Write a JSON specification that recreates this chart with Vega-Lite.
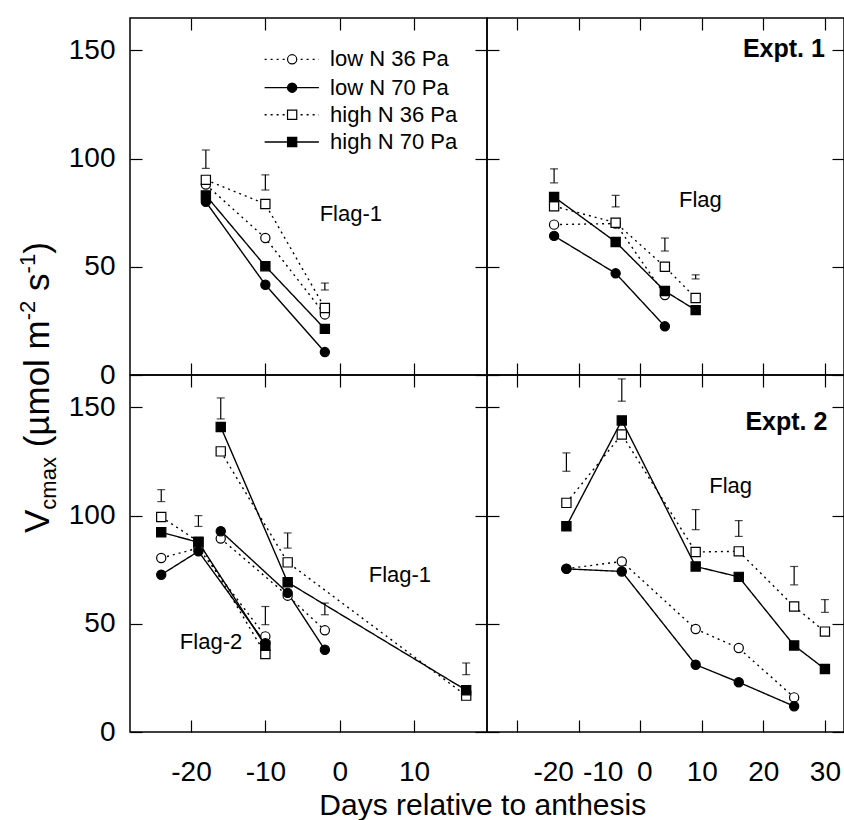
{
  "$schema": "https://vega.github.io/schema/vega-lite/v6.json",
  "background": "white",
  "padding": {"left": 16, "top": 16, "right": 2, "bottom": 2},
  "config": {
    "font": "Liberation Sans",
    "view": {"stroke": "black", "strokeWidth": 1.5},
    "concat": {"spacing": 0},
    "axis": {"domain": false, "grid": false, "ticks": true, "tickColor": "black", "tickWidth": 1.2, "tickSize": 12, "offset": -12, "labelFont": "Liberation Sans", "labelFontSize": 28, "labelColor": "black", "labelFlush": false, "labelOverlap": false, "labelBound": false, "labelExpr": "'' + datum.value", "title": null},
    "text": {"font": "Liberation Sans", "color": "black"}
  },
  "title": {"text": "Days relative to anthesis", "orient": "bottom", "anchor": "middle", "fontSize": 30, "fontWeight": "normal", "font": "Liberation Sans", "color": "black", "offset": 4, "dx": 52},
  "datasets": {
    "ptsTL": [
      {"N": "low", "Pa": "36", "d": -18, "v": 88}, {"N": "low", "Pa": "36", "d": -10, "v": 63.3}, {"N": "low", "Pa": "36", "d": -2, "v": 28},
      {"N": "low", "Pa": "70", "d": -18, "v": 80}, {"N": "low", "Pa": "70", "d": -10, "v": 41.7}, {"N": "low", "Pa": "70", "d": -2, "v": 10.6},
      {"N": "high", "Pa": "36", "d": -18, "v": 90.2}, {"N": "high", "Pa": "36", "d": -10, "v": 79}, {"N": "high", "Pa": "36", "d": -2, "v": 31},
      {"N": "high", "Pa": "70", "d": -18, "v": 83}, {"N": "high", "Pa": "70", "d": -10, "v": 50.3}, {"N": "high", "Pa": "70", "d": -2, "v": 21.3}
    ],
    "errTL": [{"d": -18, "lo": 95.5, "hi": 104}, {"d": -10, "lo": 85.5, "hi": 92.5}, {"d": -2, "lo": 39.3, "hi": 42.5}],
    "ptsTR": [
      {"N": "low", "Pa": "36", "d": -14, "v": 69.5}, {"N": "low", "Pa": "36", "d": -4, "v": 70}, {"N": "low", "Pa": "36", "d": 4, "v": 37},
      {"N": "low", "Pa": "70", "d": -14, "v": 64.3}, {"N": "low", "Pa": "70", "d": -4, "v": 47}, {"N": "low", "Pa": "70", "d": 4, "v": 22.5},
      {"N": "high", "Pa": "36", "d": -14, "v": 78}, {"N": "high", "Pa": "36", "d": -4, "v": 70.4}, {"N": "high", "Pa": "36", "d": 4, "v": 50}, {"N": "high", "Pa": "36", "d": 9, "v": 35.6},
      {"N": "high", "Pa": "70", "d": -14, "v": 82.3}, {"N": "high", "Pa": "70", "d": -4, "v": 61.5}, {"N": "high", "Pa": "70", "d": 4, "v": 38.8}, {"N": "high", "Pa": "70", "d": 9, "v": 30}
    ],
    "errTR": [{"d": -14, "lo": 88.8, "hi": 95.3}, {"d": -4, "lo": 77.7, "hi": 83}, {"d": 4, "lo": 57.3, "hi": 63.3}, {"d": 9, "lo": 44.4, "hi": 46.3}],
    "ptsBL": [
      {"c": "F2", "N": "low", "Pa": "36", "d": -24, "v": 80.4}, {"c": "F2", "N": "low", "Pa": "36", "d": -19, "v": 85}, {"c": "F2", "N": "low", "Pa": "36", "d": -10, "v": 44.2},
      {"c": "F2", "N": "low", "Pa": "70", "d": -24, "v": 72.7}, {"c": "F2", "N": "low", "Pa": "70", "d": -19, "v": 83.5}, {"c": "F2", "N": "low", "Pa": "70", "d": -10, "v": 41},
      {"c": "F2", "N": "high", "Pa": "36", "d": -24, "v": 99.4}, {"c": "F2", "N": "high", "Pa": "36", "d": -19, "v": 88}, {"c": "F2", "N": "high", "Pa": "36", "d": -10, "v": 36},
      {"c": "F2", "N": "high", "Pa": "70", "d": -24, "v": 92.3}, {"c": "F2", "N": "high", "Pa": "70", "d": -19, "v": 87.7}, {"c": "F2", "N": "high", "Pa": "70", "d": -10, "v": 39.9},
      {"c": "F1", "N": "low", "Pa": "36", "d": -16, "v": 89.4}, {"c": "F1", "N": "low", "Pa": "36", "d": -7, "v": 63}, {"c": "F1", "N": "low", "Pa": "36", "d": -2, "v": 47},
      {"c": "F1", "N": "low", "Pa": "70", "d": -16, "v": 92.8}, {"c": "F1", "N": "low", "Pa": "70", "d": -7, "v": 64.3}, {"c": "F1", "N": "low", "Pa": "70", "d": -2, "v": 38},
      {"c": "F1", "N": "high", "Pa": "36", "d": -16, "v": 129.7}, {"c": "F1", "N": "high", "Pa": "36", "d": -7, "v": 78.4}, {"c": "F1", "N": "high", "Pa": "36", "d": 17, "v": 16.8},
      {"c": "F1", "N": "high", "Pa": "70", "d": -16, "v": 141}, {"c": "F1", "N": "high", "Pa": "70", "d": -7, "v": 69.2}, {"c": "F1", "N": "high", "Pa": "70", "d": 17, "v": 19.3}
    ],
    "errBL": [{"d": -24, "lo": 106.5, "hi": 112}, {"d": -19, "lo": 95, "hi": 100}, {"d": -10, "lo": 49.6, "hi": 58}, {"d": -16, "lo": 144.7, "hi": 154.4}, {"d": -7, "lo": 85, "hi": 92}, {"d": -2, "lo": 54.2, "hi": 59.6}, {"d": 17, "lo": 26.5, "hi": 31.9}],
    "ptsBR": [
      {"N": "low", "Pa": "36", "d": -12, "v": 75.5}, {"N": "low", "Pa": "36", "d": -3, "v": 78.8}, {"N": "low", "Pa": "36", "d": 9, "v": 47.6}, {"N": "low", "Pa": "36", "d": 16, "v": 38.8}, {"N": "low", "Pa": "36", "d": 25, "v": 16},
      {"N": "low", "Pa": "70", "d": -12, "v": 75.4}, {"N": "low", "Pa": "70", "d": -3, "v": 74.2}, {"N": "low", "Pa": "70", "d": 9, "v": 31.1}, {"N": "low", "Pa": "70", "d": 16, "v": 23}, {"N": "low", "Pa": "70", "d": 25, "v": 11.9},
      {"N": "high", "Pa": "36", "d": -12, "v": 105.9}, {"N": "high", "Pa": "36", "d": -3, "v": 137.5}, {"N": "high", "Pa": "36", "d": 9, "v": 83.2}, {"N": "high", "Pa": "36", "d": 16, "v": 83.5}, {"N": "high", "Pa": "36", "d": 25, "v": 58}, {"N": "high", "Pa": "36", "d": 30, "v": 46.4},
      {"N": "high", "Pa": "70", "d": -12, "v": 95.1}, {"N": "high", "Pa": "70", "d": -3, "v": 144}, {"N": "high", "Pa": "70", "d": 9, "v": 76.5}, {"N": "high", "Pa": "70", "d": 16, "v": 71.7}, {"N": "high", "Pa": "70", "d": 25, "v": 40}, {"N": "high", "Pa": "70", "d": 30, "v": 29.1}
    ],
    "errBR": [{"d": -12, "lo": 120.5, "hi": 129}, {"d": -3, "lo": 152.9, "hi": 163.2}, {"d": 9, "lo": 93.5, "hi": 102.8}, {"d": 16, "lo": 90.4, "hi": 97.7}, {"d": 25, "lo": 68, "hi": 76.5}, {"d": 30, "lo": 55.3, "hi": 61.2}],
    "curveLab": [
      {"p": "TL", "t": "Flag-1", "d": -2.7, "v": 74.4},
      {"p": "TR", "t": "Flag", "d": 6.3, "v": 81},
      {"p": "BL", "t": "Flag-1", "d": 3.9, "v": 72.4},
      {"p": "BL", "t": "Flag-2", "d": -21.5, "v": 41.4},
      {"p": "BR", "t": "Flag", "d": 11.2, "v": 113.5}
    ],
    "exptLab": [
      {"p": "TR", "t": "Expt. 1", "d": 30, "v": 150.5},
      {"p": "BR", "t": "Expt. 2", "d": 30.4, "v": 143.3}
    ],
    "leg": [
      {"N": "low", "Pa": "36", "t": "low N 36 Pa", "v": 145.9},
      {"N": "low", "Pa": "70", "t": "low N 70 Pa", "v": 132.8},
      {"N": "high", "Pa": "36", "t": "high N 36 Pa", "v": 120.3},
      {"N": "high", "Pa": "70", "t": "high N 70 Pa", "v": 107.7}
    ]
  },
  "columns": 2,
  "bounds": "flush",
  "spacing": 0,
  "concat": [
        {
          "width": 357, "height": 357,
          "resolve": {"axis": {"x": "independent", "y": "independent"}},
          "layer": [
            {"data": {"name": "ptsTL"}, "mark": {"type": "line", "color": "black", "strokeWidth": 1.4},
             "encoding": {
               "x": {"field": "d", "type": "quantitative", "scale": {"domain": [-28.2, 19.8], "nice": false, "zero": false}, "axis": {"orient": "bottom", "values": [-20, -10, 0, 10], "labels": false}},
               "y": {"field": "v", "type": "quantitative", "scale": {"domain": [0, 165], "nice": false, "zero": false}, "axis": {"orient": "left", "values": [0, 50, 100, 150], "labels": true, "labelPadding": 15}},
               "detail": {"field": "N"},
               "strokeDash": {"field": "Pa", "type": "nominal", "scale": {"domain": ["36", "70"], "range": [[2, 4], [1, 0]]}, "legend": null}
             }},
            {"data": {"name": "ptsTL"}, "mark": {"type": "point", "filled": true, "stroke": "black", "strokeWidth": 1.2, "size": 85, "opacity": 1},
             "encoding": {
               "x": {"field": "d", "type": "quantitative", "axis": {"orient": "top", "values": [-20, -10, 0, 10], "labels": false}},
               "y": {"field": "v", "type": "quantitative", "axis": {"orient": "right", "values": [0, 50, 100, 150], "labels": false}},
               "shape": {"field": "N", "type": "nominal", "scale": {"domain": ["low", "high"], "range": ["circle", "square"]}, "legend": null},
               "fill": {"field": "Pa", "type": "nominal", "scale": {"domain": ["36", "70"], "range": ["white", "black"]}, "legend": null}
             }},
            {"data": {"name": "errTL"}, "mark": {"type": "rule", "color": "black", "strokeWidth": 1.2},
             "encoding": {"x": {"field": "d", "type": "quantitative", "axis": null}, "y": {"field": "lo", "type": "quantitative", "axis": null}, "y2": {"field": "hi"}}},
            {"data": {"name": "errTL"}, "mark": {"type": "tick", "orient": "horizontal", "color": "black", "size": 8, "thickness": 1.2},
             "encoding": {"x": {"field": "d", "type": "quantitative", "axis": null}, "y": {"field": "lo", "type": "quantitative", "axis": null}}},
            {"data": {"name": "errTL"}, "mark": {"type": "tick", "orient": "horizontal", "color": "black", "size": 8, "thickness": 1.2},
             "encoding": {"x": {"field": "d", "type": "quantitative", "axis": null}, "y": {"field": "hi", "type": "quantitative", "axis": null}}},
            {"data": {"name": "curveLab"}, "transform": [{"filter": "datum.p === 'TL'"}], "mark": {"type": "text", "align": "left", "baseline": "middle", "fontSize": 22},
             "encoding": {"x": {"field": "d", "type": "quantitative", "axis": null}, "y": {"field": "v", "type": "quantitative", "axis": null}, "text": {"field": "t"}}},
            {"data": {"name": "leg"}, "mark": {"type": "rule", "color": "black", "strokeWidth": 1.4},
             "encoding": {"x": {"datum": -10.1, "type": "quantitative", "axis": null}, "x2": {"datum": -2.8}, "y": {"field": "v", "type": "quantitative", "axis": null},
               "strokeDash": {"field": "Pa", "type": "nominal", "legend": null}}},
            {"data": {"name": "leg"}, "mark": {"type": "point", "filled": true, "stroke": "black", "strokeWidth": 1.2, "size": 85, "opacity": 1},
             "encoding": {"x": {"datum": -6.4, "type": "quantitative", "axis": null}, "y": {"field": "v", "type": "quantitative", "axis": null},
               "shape": {"field": "N", "type": "nominal", "legend": null}, "fill": {"field": "Pa", "type": "nominal", "legend": null}}},
            {"data": {"name": "leg"}, "mark": {"type": "text", "align": "left", "baseline": "middle", "fontSize": 22},
             "encoding": {"x": {"datum": -1.3, "type": "quantitative", "axis": null}, "y": {"field": "v", "type": "quantitative", "axis": null}, "text": {"field": "t"}}}
          ]
        },
        {
          "width": 357, "height": 357,
          "resolve": {"axis": {"x": "independent", "y": "independent"}},
          "layer": [
            {"data": {"name": "ptsTR"}, "mark": {"type": "line", "color": "black", "strokeWidth": 1.4},
             "encoding": {
               "x": {"field": "d", "type": "quantitative", "scale": {"domain": [-24.9, 33.1], "nice": false, "zero": false}, "axis": {"orient": "bottom", "values": [-20, -10, 0, 10, 20, 30], "labels": false}},
               "y": {"field": "v", "type": "quantitative", "scale": {"domain": [0, 165], "nice": false, "zero": false}, "axis": {"orient": "left", "values": [0, 50, 100, 150], "labels": false}},
               "detail": {"field": "N"},
               "strokeDash": {"field": "Pa", "type": "nominal", "scale": {"domain": ["36", "70"], "range": [[2, 4], [1, 0]]}, "legend": null}
             }},
            {"data": {"name": "ptsTR"}, "mark": {"type": "point", "filled": true, "stroke": "black", "strokeWidth": 1.2, "size": 85, "opacity": 1},
             "encoding": {
               "x": {"field": "d", "type": "quantitative", "axis": {"orient": "top", "values": [-20, -10, 0, 10, 20, 30], "labels": false}},
               "y": {"field": "v", "type": "quantitative", "axis": {"orient": "right", "values": [0, 50, 100, 150], "labels": false}},
               "shape": {"field": "N", "type": "nominal", "scale": {"domain": ["low", "high"], "range": ["circle", "square"]}, "legend": null},
               "fill": {"field": "Pa", "type": "nominal", "scale": {"domain": ["36", "70"], "range": ["white", "black"]}, "legend": null}
             }},
            {"data": {"name": "errTR"}, "mark": {"type": "rule", "color": "black", "strokeWidth": 1.2},
             "encoding": {"x": {"field": "d", "type": "quantitative", "axis": null}, "y": {"field": "lo", "type": "quantitative", "axis": null}, "y2": {"field": "hi"}}},
            {"data": {"name": "errTR"}, "mark": {"type": "tick", "orient": "horizontal", "color": "black", "size": 8, "thickness": 1.2},
             "encoding": {"x": {"field": "d", "type": "quantitative", "axis": null}, "y": {"field": "lo", "type": "quantitative", "axis": null}}},
            {"data": {"name": "errTR"}, "mark": {"type": "tick", "orient": "horizontal", "color": "black", "size": 8, "thickness": 1.2},
             "encoding": {"x": {"field": "d", "type": "quantitative", "axis": null}, "y": {"field": "hi", "type": "quantitative", "axis": null}}},
            {"data": {"name": "curveLab"}, "transform": [{"filter": "datum.p === 'TR'"}], "mark": {"type": "text", "align": "left", "baseline": "middle", "fontSize": 22},
             "encoding": {"x": {"field": "d", "type": "quantitative", "axis": null}, "y": {"field": "v", "type": "quantitative", "axis": null}, "text": {"field": "t"}}},
            {"data": {"name": "exptLab"}, "transform": [{"filter": "datum.p === 'TR'"}], "mark": {"type": "text", "align": "right", "baseline": "middle", "fontSize": 25, "fontWeight": "bold"},
             "encoding": {"x": {"field": "d", "type": "quantitative", "axis": null}, "y": {"field": "v", "type": "quantitative", "axis": null}, "text": {"field": "t"}}}
          ]
        },
        {
          "width": 357, "height": 357,
          "resolve": {"axis": {"x": "independent", "y": "independent"}},
          "layer": [
            {"data": {"name": "ptsBL"}, "mark": {"type": "line", "color": "black", "strokeWidth": 1.4},
             "encoding": {
               "x": {"field": "d", "type": "quantitative", "scale": {"domain": [-28.2, 19.8], "nice": false, "zero": false}, "axis": {"orient": "bottom", "values": [-20, -10, 0, 10], "labels": true, "labelPadding": 26}},
               "y": {"field": "v", "type": "quantitative", "scale": {"domain": [0, 165], "nice": false, "zero": false}, "axis": {"orient": "left", "values": [0, 50, 100, 150], "labels": true, "labelPadding": 15}},
               "detail": [{"field": "N"}, {"field": "c"}],
               "strokeDash": {"field": "Pa", "type": "nominal", "scale": {"domain": ["36", "70"], "range": [[2, 4], [1, 0]]}, "legend": null}
             }},
            {"data": {"name": "ptsBL"}, "mark": {"type": "point", "filled": true, "stroke": "black", "strokeWidth": 1.2, "size": 85, "opacity": 1},
             "encoding": {
               "x": {"field": "d", "type": "quantitative", "axis": {"orient": "top", "values": [-20, -10, 0, 10], "labels": false}},
               "y": {"field": "v", "type": "quantitative", "axis": {"orient": "right", "values": [0, 50, 100, 150], "labels": false}},
               "shape": {"field": "N", "type": "nominal", "scale": {"domain": ["low", "high"], "range": ["circle", "square"]}, "legend": null},
               "fill": {"field": "Pa", "type": "nominal", "scale": {"domain": ["36", "70"], "range": ["white", "black"]}, "legend": null}
             }},
            {"data": {"name": "errBL"}, "mark": {"type": "rule", "color": "black", "strokeWidth": 1.2},
             "encoding": {"x": {"field": "d", "type": "quantitative", "axis": null}, "y": {"field": "lo", "type": "quantitative", "axis": null}, "y2": {"field": "hi"}}},
            {"data": {"name": "errBL"}, "mark": {"type": "tick", "orient": "horizontal", "color": "black", "size": 8, "thickness": 1.2},
             "encoding": {"x": {"field": "d", "type": "quantitative", "axis": null}, "y": {"field": "lo", "type": "quantitative", "axis": null}}},
            {"data": {"name": "errBL"}, "mark": {"type": "tick", "orient": "horizontal", "color": "black", "size": 8, "thickness": 1.2},
             "encoding": {"x": {"field": "d", "type": "quantitative", "axis": null}, "y": {"field": "hi", "type": "quantitative", "axis": null}}},
            {"data": {"name": "curveLab"}, "transform": [{"filter": "datum.p === 'BL'"}], "mark": {"type": "text", "align": "left", "baseline": "middle", "fontSize": 22},
             "encoding": {"x": {"field": "d", "type": "quantitative", "axis": null}, "y": {"field": "v", "type": "quantitative", "axis": null}, "text": {"field": "t"}}},
            {"data": {"values": [{}]}, "mark": {"type": "text", "text": "V", "angle": 270, "align": "left", "baseline": "alphabetic", "fontSize": 35, "dx": 0, "dy": 0},
             "encoding": {"x": {"datum": -39.1, "type": "quantitative", "axis": null}, "y": {"datum": 92, "type": "quantitative", "axis": null}}},
            {"data": {"values": [{}]}, "mark": {"type": "text", "text": "cmax", "angle": 270, "align": "left", "baseline": "alphabetic", "fontSize": 22, "dx": 23.3, "dy": 7},
             "encoding": {"x": {"datum": -39.1, "type": "quantitative", "axis": null}, "y": {"datum": 92, "type": "quantitative", "axis": null}}},
            {"data": {"values": [{}]}, "mark": {"type": "text", "text": "(µmol m", "angle": 270, "align": "left", "baseline": "alphabetic", "fontSize": 35, "dx": 85.6, "dy": 0},
             "encoding": {"x": {"datum": -39.1, "type": "quantitative", "axis": null}, "y": {"datum": 92, "type": "quantitative", "axis": null}}},
            {"data": {"values": [{}]}, "mark": {"type": "text", "text": "-2", "angle": 270, "align": "left", "baseline": "alphabetic", "fontSize": 22, "dx": 212.7, "dy": -14},
             "encoding": {"x": {"datum": -39.1, "type": "quantitative", "axis": null}, "y": {"datum": 92, "type": "quantitative", "axis": null}}},
            {"data": {"values": [{}]}, "mark": {"type": "text", "text": "s", "angle": 270, "align": "left", "baseline": "alphabetic", "fontSize": 35, "dx": 242, "dy": 0},
             "encoding": {"x": {"datum": -39.1, "type": "quantitative", "axis": null}, "y": {"datum": 92, "type": "quantitative", "axis": null}}},
            {"data": {"values": [{}]}, "mark": {"type": "text", "text": "-1", "angle": 270, "align": "left", "baseline": "alphabetic", "fontSize": 22, "dx": 259.5, "dy": -14},
             "encoding": {"x": {"datum": -39.1, "type": "quantitative", "axis": null}, "y": {"datum": 92, "type": "quantitative", "axis": null}}},
            {"data": {"values": [{}]}, "mark": {"type": "text", "text": ")", "angle": 270, "align": "left", "baseline": "alphabetic", "fontSize": 35, "dx": 279.1, "dy": 0},
             "encoding": {"x": {"datum": -39.1, "type": "quantitative", "axis": null}, "y": {"datum": 92, "type": "quantitative", "axis": null}}}
          ]
        },
        {
          "width": 357, "height": 357,
          "resolve": {"axis": {"x": "independent", "y": "independent"}},
          "layer": [
            {"data": {"name": "ptsBR"}, "mark": {"type": "line", "color": "black", "strokeWidth": 1.4},
             "encoding": {
               "x": {"field": "d", "type": "quantitative", "scale": {"domain": [-24.9, 33.1], "nice": false, "zero": false}, "axis": {"orient": "bottom", "values": [-20, -10, 0, 10, 20, 30], "labels": true, "labelPadding": 26,
                 "labelOffset": {"condition": [{"test": "datum.value === -20", "value": 36}, {"test": "datum.value === -10", "value": 24}, {"test": "datum.value === 0", "value": 4}], "value": 0}}},
               "y": {"field": "v", "type": "quantitative", "scale": {"domain": [0, 165], "nice": false, "zero": false}, "axis": {"orient": "left", "values": [0, 50, 100, 150], "labels": false}},
               "detail": {"field": "N"},
               "strokeDash": {"field": "Pa", "type": "nominal", "scale": {"domain": ["36", "70"], "range": [[2, 4], [1, 0]]}, "legend": null}
             }},
            {"data": {"name": "ptsBR"}, "mark": {"type": "point", "filled": true, "stroke": "black", "strokeWidth": 1.2, "size": 85, "opacity": 1},
             "encoding": {
               "x": {"field": "d", "type": "quantitative", "axis": {"orient": "top", "values": [-20, -10, 0, 10, 20, 30], "labels": false}},
               "y": {"field": "v", "type": "quantitative", "axis": {"orient": "right", "values": [0, 50, 100, 150], "labels": false}},
               "shape": {"field": "N", "type": "nominal", "scale": {"domain": ["low", "high"], "range": ["circle", "square"]}, "legend": null},
               "fill": {"field": "Pa", "type": "nominal", "scale": {"domain": ["36", "70"], "range": ["white", "black"]}, "legend": null}
             }},
            {"data": {"name": "errBR"}, "mark": {"type": "rule", "color": "black", "strokeWidth": 1.2},
             "encoding": {"x": {"field": "d", "type": "quantitative", "axis": null}, "y": {"field": "lo", "type": "quantitative", "axis": null}, "y2": {"field": "hi"}}},
            {"data": {"name": "errBR"}, "mark": {"type": "tick", "orient": "horizontal", "color": "black", "size": 8, "thickness": 1.2},
             "encoding": {"x": {"field": "d", "type": "quantitative", "axis": null}, "y": {"field": "lo", "type": "quantitative", "axis": null}}},
            {"data": {"name": "errBR"}, "mark": {"type": "tick", "orient": "horizontal", "color": "black", "size": 8, "thickness": 1.2},
             "encoding": {"x": {"field": "d", "type": "quantitative", "axis": null}, "y": {"field": "hi", "type": "quantitative", "axis": null}}},
            {"data": {"name": "curveLab"}, "transform": [{"filter": "datum.p === 'BR'"}], "mark": {"type": "text", "align": "left", "baseline": "middle", "fontSize": 22},
             "encoding": {"x": {"field": "d", "type": "quantitative", "axis": null}, "y": {"field": "v", "type": "quantitative", "axis": null}, "text": {"field": "t"}}},
            {"data": {"name": "exptLab"}, "transform": [{"filter": "datum.p === 'BR'"}], "mark": {"type": "text", "align": "right", "baseline": "middle", "fontSize": 25, "fontWeight": "bold"},
             "encoding": {"x": {"field": "d", "type": "quantitative", "axis": null}, "y": {"field": "v", "type": "quantitative", "axis": null}, "text": {"field": "t"}}}
          ]
        }
  ]
}
